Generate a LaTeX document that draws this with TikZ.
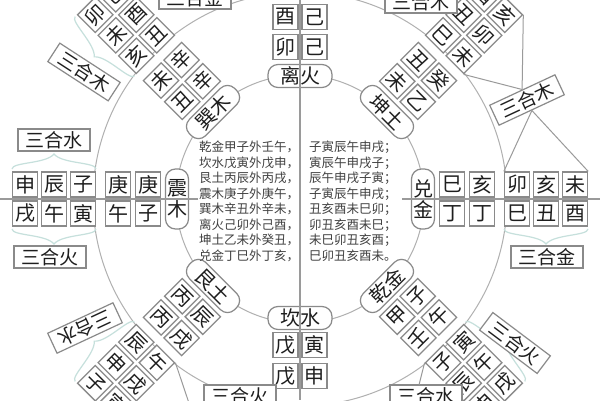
\documentclass[tikz,border=0pt]{standalone}
\usepackage{fontspec}
\newfontfamily\cjk{Noto Sans CJK SC}
\usetikzlibrary{calc}
\definecolor{boxgray}{HTML}{8A8A8A}
\definecolor{linegray}{HTML}{9A9A9A}
\definecolor{circgray}{HTML}{B0B0B0}
\definecolor{txt}{HTML}{1E1E1E}
\definecolor{bracecol}{HTML}{C6E0DC}
\tikzset{
  cbox/.style={draw=boxgray, line width=1.3pt, fill=white, minimum size=25pt, inner sep=0pt,
    font=\cjk\fontsize{20}{20}\selectfont, text=txt},
  gua/.style={draw=boxgray, line width=1.2pt, fill=white, rounded corners=10pt,
    minimum width=64pt, minimum height=23pt, inner sep=0pt,
    font=\cjk\fontsize{20}{21}\selectfont, text=txt},
  guav/.style={gua, minimum width=23pt, minimum height=60pt, align=center},
  sanhe/.style={draw=boxgray, line width=1.2pt, fill=white, minimum width=72pt,
    minimum height=22pt, inner sep=0pt, font=\cjk\fontsize{19}{19}\selectfont, text=txt},
  ctext/.style={inner sep=0pt, font=\cjk\fontsize{12.5}{15.5}\selectfont, text=txt!85},
  circ/.style={draw=circgray, line width=1pt},
  axis/.style={draw=linegray, line width=1.4pt},
  conn/.style={draw=linegray, line width=1pt},
  brace/.style={draw=bracecol, line width=1.2pt},
}
\newcommand\bx[6]{\node[cbox,rotate=#5] (#1) at ($(C)+(#2:#3)+(#2-90:#4)$) {#6};}
\newcommand\stems[7]{%
  \bx{#1sip}{#2}{152}{14.5}{#3}{#4}%
  \bx{#1sim}{#2}{152}{-14.5}{#3}{#5}%
  \bx{#1sop}{#2}{182}{14.5}{#3}{#6}%
  \bx{#1som}{#2}{182}{-14.5}{#3}{#7}}
\newcommand\branches[9]{%
  \bx{#1bap}{#2}{217}{14.5}{#3}{#4}%
  \bx{#1bam}{#2}{217}{-14.5}{#3}{#5}%
  \bx{#1bbp}{#2}{246}{14.5}{#3}{#6}%
  \bx{#1bbm}{#2}{246}{-14.5}{#3}{#7}%
  \bx{#1bcp}{#2}{275}{14.5}{#3}{#8}%
  \bx{#1bcm}{#2}{275}{-14.5}{#3}{#9}}
\newcommand\brc[2]{%
  \begin{scope}[shift={(C)},rotate=#1,yscale=#2]
    \draw[brace] (204,30) .. controls (204,37) and (238,35) .. (246,45)
      .. controls (254,35) and (288,37) .. (288,30);
  \end{scope}}
\begin{document}
\begin{tikzpicture}[x=1pt,y=1pt]
\useasboundingbox (0,0) rectangle (600,400);
\fill[white] (0,0) rectangle (600,400);
\coordinate (C) at (300,201);
% circles
\draw[circ] (C) circle[radius=124];
\draw[circ] (C) circle[radius=207];
% braces
\brc{180}{-1}
\brc{180}{1}
\brc{0}{-1}
\brc{135}{1}
\brc{-135}{-1}
\brc{-45}{1}
% trigram nodes
\node[gua] (li) at ($(C)+(90:123)$) {离火};
\node[gua,rotate=-45] (kun) at ($(C)+(45:123)$) {坤土};
\node[guav] (dui) at ($(C)+(0:123)$) {兑\\金};
\node[gua,rotate=45] (qian) at ($(C)+(-45:123)$) {乾金};
\node[gua] (kan) at ($(C)+(-90:119)$) {坎水};
\node[gua,rotate=-45] (gen) at ($(C)+(-135:123)$) {艮土};
\node[guav] (zhen) at ($(C)+(180:123)$) {震\\木};
\node[gua,rotate=45] (xun) at ($(C)+(135:123)$) {巽木};
% stems and branches
\stems{li}{90}{0}{己}{卯}{己}{酉}
\stems{kun}{45}{-45}{乙}{未}{癸}{丑}
\branches{kun}{45}{-45}{未}{巳}{卯}{丑}{亥}{酉}
\stems{dui}{0}{0}{丁}{巳}{丁}{亥}
\branches{dui}{0}{0}{巳}{卯}{丑}{亥}{酉}{未}
\stems{qian}{-45}{45}{甲}{子}{壬}{午}
\branches{qian}{-45}{45}{子}{寅}{辰}{午}{申}{戌}
\bx{kansip}{-90}{146}{14.5}{0}{戊}
\bx{kansim}{-90}{146}{-14.5}{0}{寅}
\bx{kansop}{-90}{177}{14.5}{0}{戊}
\bx{kansom}{-90}{177}{-14.5}{0}{申}
\stems{gen}{-135}{-45}{丙}{辰}{丙}{戌}
\branches{gen}{-135}{-45}{辰}{午}{申}{戌}{子}{寅}
\stems{zhen}{180}{0}{庚}{子}{庚}{午}
\branches{zhen}{180}{0}{子}{寅}{辰}{午}{申}{戌}
\stems{xun}{135}{45}{辛}{丑}{辛}{未}
\branches{xun}{135}{45}{丑}{亥}{酉}{未}{巳}{卯}
% sanhe boxes
\node[sanhe] (sanheWt) at (54,260) {三合水};
\node[sanhe] (sanheWb) at (50,143) {三合火};
\node[sanhe] (sanheE) at (547,143) {三合金};
\node[sanhe,rotate=-33] (sanheNW) at (84,328) {三合木};
\node[sanhe,rotate=25] (sanheNE) at (527,300) {三合木};
\node[sanhe,rotate=205] (sanheSW) at (85,72) {三合水};
\node[sanhe,rotate=-37] (sanheSE) at (515,57) {三合火};
\node[sanhe] (sanheS1) at (240,4) {三合火};
\node[sanhe] (sanheS2) at (426,4) {三合水};
\node[sanhe] (sanheN1) at (195,402) {三合金};
\node[sanhe] (sanheN2) at (421,398) {三合木};
% connectors
\coordinate (swend) at (193,-15);
\coordinate (seend) at (419,15);
\draw[conn] (sanheNE.north) -- (kunbap.south east);
\draw[conn] (sanheNE.north) -- (kunbcp.north east);
\draw[conn] (sanheNE.south) -- (duibam.north west);
\draw[conn] (sanheNE.south) -- (duibcm.north east);
\draw[conn] (genbam.north east) -- (swend);
\draw[conn] (qianbap.north west) -- (seend);
% central text
\foreach \ltxt/\rtxt [count=\i] in {
  乾金甲子外壬午，/子寅辰午申戌；,
  坎水戊寅外戊申，/寅辰午申戌子；,
  艮土丙辰外丙戌，/辰午申戌子寅；,
  震木庚子外庚午，/子寅辰午申戌；,
  巽木辛丑外辛未，/丑亥酉未巳卯；,
  离火己卯外己酉，/卯丑亥酉未巳；,
  坤土乙未外癸丑，/未巳卯丑亥酉；,
  兑金丁巳外丁亥，/巳卯丑亥酉未。}{
  \node[ctext, anchor=base west] (tl\i) at (199,{248.3-15.5*(\i-1)}) {\ltxt};
  \node[ctext, anchor=base west] (tr\i) at (309,{248.3-15.5*(\i-1)}) {\rtxt};
}
% axes
\coordinate (axT) at (300,400);
\coordinate (axB) at (300,0);
\coordinate (axL) at (0,201);
\coordinate (axLi) at (198,201);
\coordinate (axRi) at (402,201);
\coordinate (axR) at (600,201);
\draw[axis] (axT) -- (axB);
\draw[axis] (axL) -- (axLi);
\draw[axis] (axRi) -- (axR);
\end{tikzpicture}
\end{document}
